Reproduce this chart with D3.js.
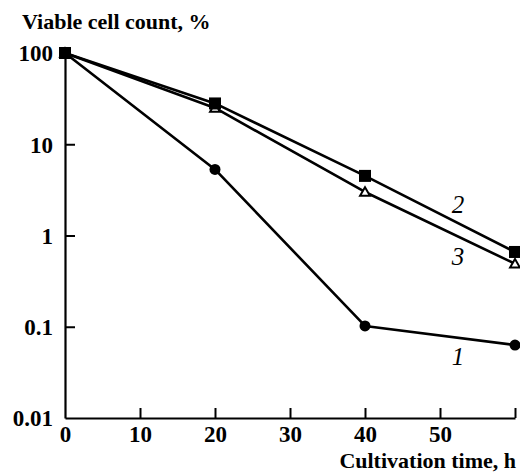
<!DOCTYPE html>
<html>
<head>
<meta charset="utf-8">
<script src="https://cdn.jsdelivr.net/npm/d3@7"></script>
</head>
<body style="margin:0">
<svg id="chart" width="520" height="472" font-family="Liberation Serif"></svg>
<script>
// ---- data ----
const hours = [0, 20, 40, 60];
const series1 = [100, 5.3, 0.102, 0.063];   // circles, curve 1
const series2 = [100, 28, 4.5, 0.66];       // filled squares, curve 2
const series3 = [100, 25, 3.0, 0.49];       // open triangles, curve 3
const xTicks = [0, 10, 20, 30, 40, 50, 60];
const xTickLabels = ["0", "10", "20", "30", "40", "50", ""];
const yTicks = [0.01, 0.1, 1, 10, 100];
const yTickLabels = ["0.01", "0.1", "1", "10", "100"];
const seriesNames = ["1", "2", "3"];

const svg = d3.select("#chart");
const mL = 65, mR = 515, mT = 53, mB = 418;

const xScale = d3.scaleLinear().domain([0, 60]).range([mL, mR]);
const yScale = d3.scaleLog().domain([0.01, 100]).range([mB, mT]);

// axes
const xAxis = d3.axisBottom(xScale).tickValues(xTicks)
  .tickFormat((d, i) => xTickLabels[i]).tickSizeInner(-10).tickSizeOuter(0).tickPadding(8);
const yAxis = d3.axisLeft(yScale).tickValues(yTicks)
  .tickFormat((d, i) => yTickLabels[i]).tickSizeInner(-10).tickSizeOuter(0).tickPadding(12);

const gx = svg.append("g").attr("transform", `translate(0,${mB})`).call(xAxis);
const gy = svg.append("g").attr("transform", `translate(${mL},0)`).call(yAxis);

[gx, gy].forEach(g => {
  g.attr("font-family", "Liberation Serif").attr("font-size", 23);
  g.select(".domain").attr("stroke", "#000").attr("stroke-width", 2.2);
  g.selectAll(".tick line").attr("stroke", "#000").attr("stroke-width", 2);
  g.selectAll(".tick text")
    .style("font-family", "'Liberation Serif'")
    .attr("font-size", 23).attr("font-weight", "bold").attr("fill", "#000");
});
gy.selectAll(".tick text").attr("dy", "0.34em");
gx.selectAll(".tick").filter(d => d === 0).select("line").remove();
gy.selectAll(".tick").filter(d => d === 0.01 || d === 100).select("line").remove();

// axis titles
svg.append("text").attr("x", 22).attr("y", 29)
  .style("font-family", "'Liberation Serif'")
  .attr("font-size", 22).attr("font-weight", "bold")
  .text("Viable cell count, %");
svg.append("text").attr("x", 516).attr("y", 468).attr("text-anchor", "end")
  .style("font-family", "'Liberation Serif'")
  .attr("font-size", 22).attr("font-weight", "bold")
  .text("Cultivation time, h");

// lines
const line = d3.line().x((d, i) => xScale(hours[i])).y(d => yScale(d));
[series1, series2, series3].forEach(s => {
  svg.append("path").datum(s).attr("d", line)
    .attr("fill", "none").attr("stroke", "#000").attr("stroke-width", 2.6)
    .attr("stroke-linejoin", "round");
});

// markers
svg.append("g").selectAll("circle").data(series1).join("circle")
  .attr("cx", (d, i) => xScale(hours[i])).attr("cy", d => yScale(d)).attr("r", 5.5).attr("fill", "#000");
svg.append("g").selectAll("path").data(series3).join("path")
  .attr("transform", (d, i) => `translate(${xScale(hours[i])},${yScale(d) + 1})`)
  .attr("d", d3.symbol().type(d3.symbolTriangle).size(42))
  .attr("fill", "#fff").attr("stroke", "#000").attr("stroke-width", 2);
svg.append("g").selectAll("rect").data(series2).join("rect")
  .attr("x", (d, i) => xScale(hours[i]) - 6).attr("y", d => yScale(d) - 6)
  .attr("width", 12).attr("height", 12).attr("fill", "#000");

// curve labels
const labelPos = [
  { x: 52.4, v: 0.038 },
  { x: 52.4, v: 1.77 },
  { x: 52.4, v: 0.475 }
];
seriesNames.forEach((n, i) => {
  svg.append("text").attr("x", xScale(labelPos[i].x)).attr("y", yScale(labelPos[i].v))
    .style("font-family", "'Liberation Serif'")
    .attr("font-size", 25).attr("font-style", "italic")
    .attr("text-anchor", "middle")
    .text(n);
});
</script>
</body>
</html>
